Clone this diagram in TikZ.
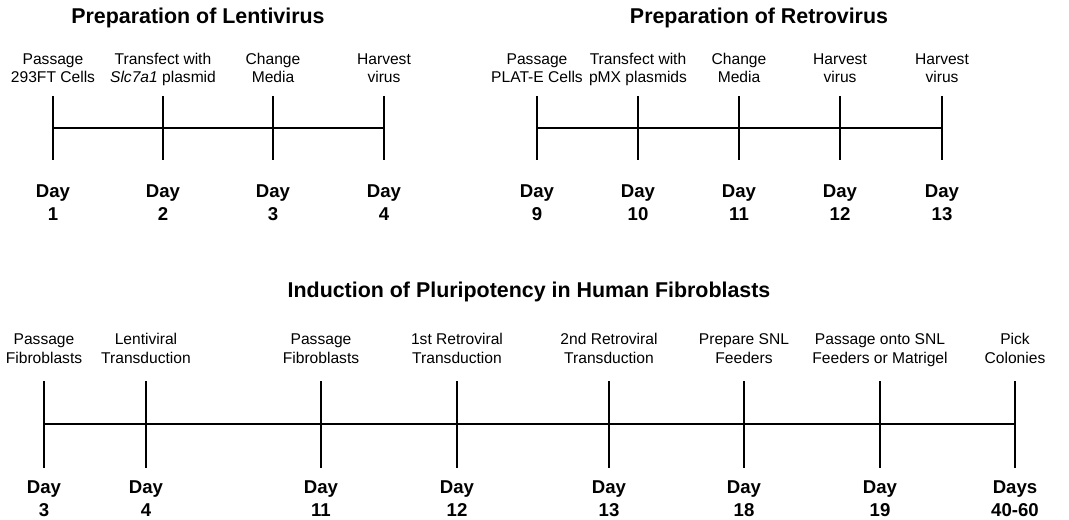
\documentclass[tikz,border=0pt]{standalone}
\usepackage{fontspec}
\setmainfont{Liberation Sans}
\begin{document}
\begin{tikzpicture}[x=0.5pt,y=-0.5pt,
  lab/.style={font=\fontsize{7.8}{9.2}\selectfont, align=center, anchor=base, inner sep=0pt},
  dayl/.style={font=\bfseries\fontsize{9.3}{11.5}\selectfont, align=center, anchor=base, inner sep=0pt},
  ttl/.style={font=\bfseries\fontsize{10.7}{12}\selectfont, anchor=base, inner sep=0pt},
  tk/.style={line width=1.3pt},
  axis/.style={line width=1.1pt}]
\useasboundingbox (0,0) rectangle (1069,519);
% ---------- Lentivirus ----------
\node[ttl] (t1) at (198,24) {Preparation of Lentivirus};
\foreach \n/\x/\lab/\d in {a/53/{Passage\\293FT Cells}/1,
                          b/163/{Transfect with\\\itshape Slc7a1\upshape{} plasmid}/2,
                          c/273/{Change\\Media}/3,
                          d/384/{Harvest\\virus}/4}{
  \coordinate (L\n t) at (\x,96);
  \coordinate (L\n m) at (\x,128);
  \coordinate (L\n b) at (\x,160);
  \draw[tk] (L\n t) -- (L\n b);
  \node[lab] (L\n lab) at (\x,83) {\lab};
  \node[dayl] (L\n day) at (\x,220) {Day\\\d};
}
\draw[axis] (Lam) -- (Ldm);
% ---------- Retrovirus ----------
\node[ttl] (t2) at (759,24) {Preparation of Retrovirus};
\foreach \n/\x/\lab/\d in {a/537/{Passage\\PLAT-E Cells}/9,
                          b/638/{Transfect with\\pMX plasmids}/10,
                          c/739/{Change\\Media}/11,
                          d/840/{Harvest\\virus}/12,
                          e/942/{Harvest\\virus}/13}{
  \coordinate (R\n t) at (\x,96);
  \coordinate (R\n m) at (\x,128);
  \coordinate (R\n b) at (\x,160);
  \draw[tk] (R\n t) -- (R\n b);
  \node[lab] (R\n lab) at (\x,83) {\lab};
  \node[dayl] (R\n day) at (\x,220) {Day\\\d};
}
\draw[axis] (Ram) -- (Rem);
% ---------- Induction ----------
\node[ttl] (t3) at (529,297) {Induction of Pluripotency in Human Fibroblasts};
\foreach \n/\x/\lab/\dw/\d in {a/44/{Passage\\Fibroblasts}/Day/3,
                          b/146/{Lentiviral\\Transduction}/Day/4,
                          c/321/{Passage\\Fibroblasts}/Day/11,
                          d/457/{1st Retroviral\\Transduction}/Day/12,
                          e/609/{2nd Retroviral\\Transduction}/Day/13,
                          f/744/{Prepare SNL\\Feeders}/Day/18,
                          g/880/{Passage onto SNL\\Feeders or Matrigel}/Day/19,
                          h/1015/{Pick\\Colonies}/Days/40-60}{
  \coordinate (I\n t) at (\x,381);
  \coordinate (I\n m) at (\x,424);
  \coordinate (I\n b) at (\x,468);
  \draw[tk] (I\n t) -- (I\n b);
  \node[lab] (I\n lab) at (\x,363) {\lab};
  \node[dayl] (I\n day) at (\x,516) {\dw\\\d};
}
\draw[axis] (Iam) -- (Ihm);
\end{tikzpicture}
\end{document}
